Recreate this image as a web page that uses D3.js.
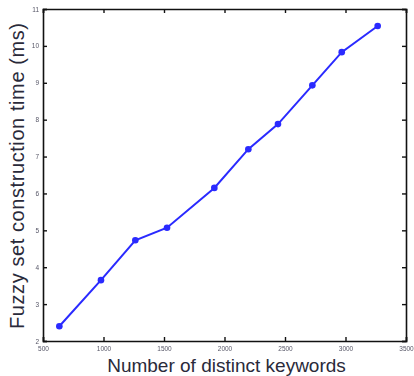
<!DOCTYPE html>
<html>
<head>
<meta charset="utf-8">
<script src="https://cdn.jsdelivr.net/npm/d3@7"></script>
<style>
  html, body { margin: 0; padding: 0; background: #fff; }
  svg { display: block; }
</style>
</head>
<body>
<svg id="chart" width="414" height="376"></svg>
<script>
// Number of distinct keywords vs. fuzzy set construction time
const keywords = [635, 979, 1263, 1525, 1916, 2197, 2442, 2726, 2969, 3266];
const timeMs = [2.4, 3.65, 4.73, 5.07, 6.15, 7.2, 7.88, 8.93, 9.83, 10.54];
const xTicks = [500, 1000, 1500, 2000, 2500, 3000, 3500];
const yTicks = [2, 3, 4, 5, 6, 7, 8, 9, 10, 11];

const svg = d3.select("#chart");
const margin = { left: 43, right: 8, top: 9, bottom: 35 };
const W = 414, H = 376;

const x = d3.scaleLinear().domain([500, 3500]).range([margin.left, W - margin.right]);
const y = d3.scaleLinear().domain([2, 11]).range([H - margin.bottom, margin.top]);

svg.append("defs").append("filter").attr("id", "soft")
  .append("feGaussianBlur").attr("stdDeviation", 0.35);

const g = svg.append("g");

// Axes with inward ticks, mirrored on top and right
const tickLen = 4;
g.append("g")
  .attr("transform", `translate(0,${y(2)})`)
  .call(d3.axisBottom(x).tickValues(xTicks).tickSize(-tickLen).tickPadding(5).tickFormat(d3.format("d")));
g.append("g")
  .attr("transform", `translate(${x(500)},0)`)
  .call(d3.axisLeft(y).tickValues(yTicks).tickSize(-tickLen).tickPadding(4).tickFormat(d3.format("d")));
g.append("g")
  .attr("transform", `translate(0,${y(11)})`)
  .call(d3.axisTop(x).tickValues(xTicks).tickSize(-tickLen).tickFormat(""));
g.append("g")
  .attr("transform", `translate(${x(3500)},0)`)
  .call(d3.axisRight(y).tickValues(yTicks).tickSize(-tickLen).tickFormat(""));

g.selectAll(".domain").attr("stroke", "#111").attr("stroke-width", 1.6);
g.selectAll(".tick line").attr("stroke", "#111").attr("stroke-width", 1.4);
g.selectAll(".tick text")
  .attr("font-family", "Liberation Sans, Arial, sans-serif")
  .attr("font-size", 6.5)
  .attr("fill", "#556")
  .attr("filter", "url(#soft)");

// Data line and markers
const pts = keywords.map((k, i) => [k, timeMs[i]]);
const line = d3.line().x(d => x(d[0])).y(d => y(d[1]));
g.append("path")
  .datum(pts)
  .attr("d", line)
  .attr("fill", "none")
  .attr("stroke", "#2a2aff")
  .attr("stroke-width", 2)
  .attr("filter", "url(#soft)");
g.selectAll("circle.pt")
  .data(pts)
  .join("circle")
  .attr("class", "pt")
  .attr("cx", d => x(d[0]))
  .attr("cy", d => y(d[1]))
  .attr("r", 3.3)
  .attr("fill", "#2a2aff")
  .attr("filter", "url(#soft)");

// Axis titles
svg.append("text")
  .attr("x", (x(500) + x(3500)) / 2 + 2)
  .attr("y", 372)
  .attr("text-anchor", "middle")
  .attr("font-family", "Liberation Sans, Arial, sans-serif")
  .attr("font-size", 19)
  .attr("fill", "#2a2a3a")
  .text("Number of distinct keywords");

svg.append("text")
  .attr("transform", `translate(24,${(y(2) + y(11)) / 2 + 1}) rotate(-90)`)
  .attr("text-anchor", "middle")
  .attr("font-family", "Liberation Sans, Arial, sans-serif")
  .attr("font-size", 20)
  .attr("textLength", 306)
  .attr("lengthAdjust", "spacing")
  .attr("fill", "#2a2a3a")
  .text("Fuzzy set construction time (ms)");
</script>
</body>
</html>
